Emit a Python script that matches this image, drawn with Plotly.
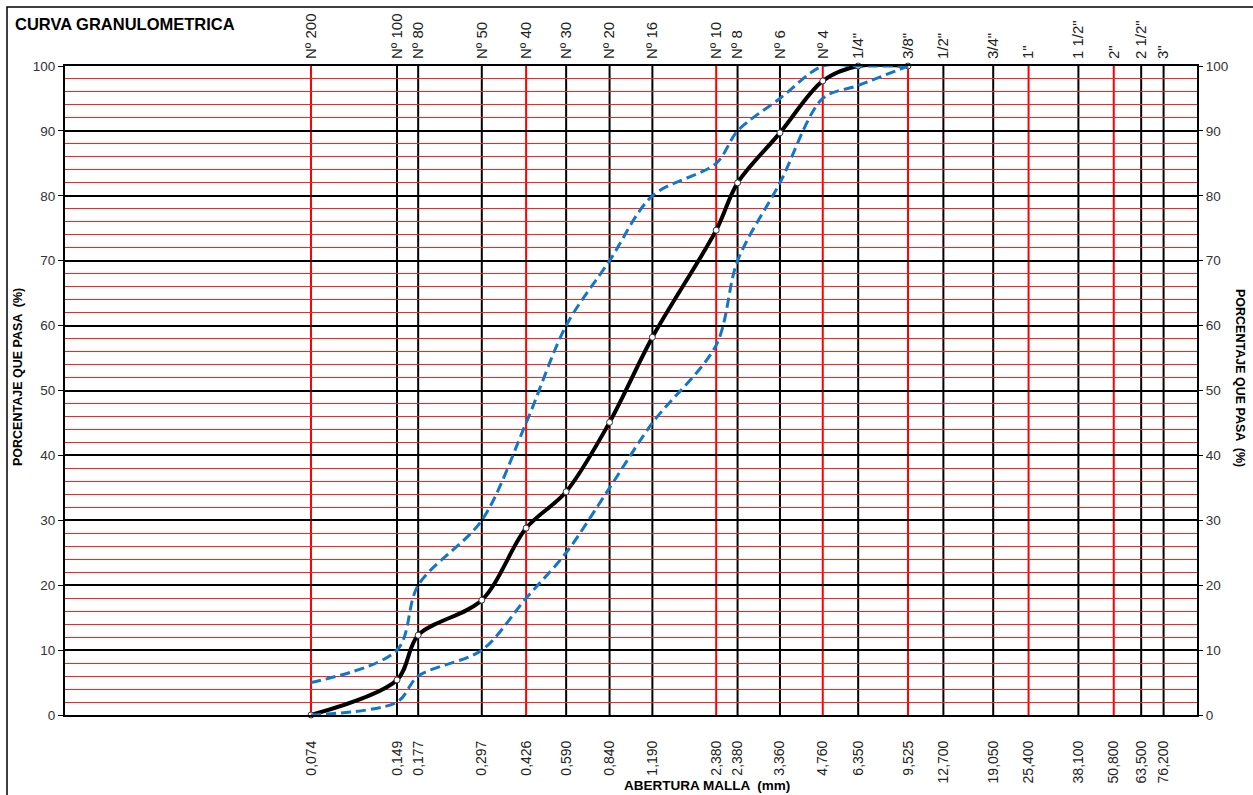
import plotly.graph_objects as go

# ---------------- data ----------------
sieve_mm = [0.074, 0.149, 0.177, 0.297, 0.426, 0.590, 0.840, 1.190, 2.000, 2.380,
            3.360, 4.760, 6.350, 9.525, 12.700, 19.050, 25.400, 38.100, 50.800,
            63.500, 76.200]
bottom_labels = ["0,074", "0,149", "0,177", "0,297", "0,426", "0,590", "0,840",
                 "1,190", "2,380", "2,380", "3,360", "4,760", "6,350", "9,525",
                 "12,700", "19,050", "25,400", "38,100", "50,800", "63,500", "76,200"]
top_labels = ["Nº 200", "Nº 100", "Nº 80", "Nº 50", "Nº 40", "Nº 30", "Nº 20",
              "Nº 16", "Nº 10", "Nº 8", "Nº 6", "Nº 4", '1/4"', '3/8"', '1/2"',
              '3/4"', '1"', '1 1/2"', '2"', '2 1/2"', '3"']
red_sieves = ["Nº 200", "Nº 40", "Nº 10", "Nº 4", '3/8"', '1"', '2"']

curve_mm = [0.074, 0.149, 0.177, 0.297, 0.426, 0.590, 0.840, 1.190, 2.000, 2.380,
            3.360, 4.760, 6.350, 9.525]
pasa = [0.0, 5.4, 12.3, 17.7, 28.8, 34.4, 45.1, 58.2, 74.7, 82.0, 89.7, 97.7, 100.0, 100.0]
limite_sup = [5, 10, 20, 30, 45, 60, 70, 80, 85, 90, 95, 100, 100, 100]
limite_inf = [0, 2, 6, 10, 18, 25, 35, 45, 57, 70, 82, 95, 97, 100]

# ---------------- layout helpers ----------------
W, H = 1253, 795
L, R, T, B = 65, 1197, 66, 715


def px(x):
    return (x - L) / (R - L)


def py(y):
    return (B - y) / (B - T)


FONT = "Liberation Sans, Arial, sans-serif"
BLUE = "#1177c9"

fig = go.Figure()

fig.add_trace(go.Scatter(
    x=curve_mm, y=pasa, mode="lines+markers",
    line=dict(color="black", width=4, shape="spline", smoothing=0.9),
    marker=dict(size=6, color="white", line=dict(color="#333333", width=1)),
    showlegend=False, hoverinfo="x+y", cliponaxis=False))
fig.add_trace(go.Scatter(
    x=curve_mm, y=limite_sup, mode="lines",
    line=dict(color=BLUE, width=3, dash="10px,5px", shape="spline", smoothing=0.9),
    showlegend=False))
fig.add_trace(go.Scatter(
    x=curve_mm, y=limite_inf, mode="lines",
    line=dict(color=BLUE, width=3, dash="10px,5px", shape="spline", smoothing=0.9),
    showlegend=False))
# invisible trace to activate top axis
fig.add_trace(go.Scatter(x=[sieve_mm[0]], y=[0], xaxis="x2", mode="markers",
                         marker=dict(opacity=0), showlegend=False, hoverinfo="skip"))
# invisible trace for right axis
fig.add_trace(go.Scatter(x=[sieve_mm[0]], y=[0], yaxis="y2", mode="markers",
                         marker=dict(opacity=0), showlegend=False, hoverinfo="skip"))

shapes = []
for xv, lab in zip(sieve_mm, top_labels):
    col = "#ff0000" if lab in red_sieves else "black"
    shapes.append(dict(type="line", xref="x", yref="paper", x0=xv, x1=xv, y0=0, y1=1,
                       line=dict(color=col, width=2), layer="between"))
# outer frame
shapes.append(dict(type="rect", xref="paper", yref="paper",
                   x0=px(7), x1=px(1275), y0=py(820), y1=py(7),
                   line=dict(color="black", width=1.5), layer="below"))

bfont = dict(family=FONT, size=14, color="#222222")
tfont = dict(family=FONT, size=15, color="#222222")
yfont = dict(family=FONT, size=13.5, color="#333333")

fig.update_layout(
    width=W, height=H,
    margin=dict(l=L, r=W - R, t=T, b=H - B),
    paper_bgcolor="white", plot_bgcolor="white",
    shapes=shapes,
    xaxis=dict(type="log", range=[-2, 2], tickmode="array", tickvals=sieve_mm,
               ticktext=bottom_labels, tickangle=-90, tickfont=bfont,
               showgrid=False, zeroline=False, ticks="", ticklabelstandoff=18,
               showline=True, linecolor="black", linewidth=2, mirror=False),
    xaxis2=dict(type="log", range=[-2, 2], overlaying="x", side="top",
                tickmode="array", tickvals=sieve_mm, ticktext=top_labels,
                tickangle=-90, tickfont=tfont, showgrid=False, zeroline=False,
                ticks="", ticklabelstandoff=2, showline=True, linecolor="black",
                linewidth=2),
    yaxis=dict(range=[0, 100], dtick=10, tick0=0, tickfont=yfont,
               showgrid=True, gridcolor="black", gridwidth=2,
               minor=dict(dtick=2, showgrid=True, gridcolor="#ff2020", gridwidth=1,
                          ticks=""),
               ticks="outside", ticklen=5, tickcolor="black", tickwidth=1,
               showline=True, linecolor="black", linewidth=2, zeroline=False),
    yaxis2=dict(range=[0, 100], dtick=10, tick0=0, overlaying="y", side="right",
                tickfont=yfont, showgrid=False, ticks="outside", ticklen=4,
                tickcolor="black", tickwidth=1, showline=True, linecolor="black",
                linewidth=2, zeroline=False),
    annotations=[
        dict(text="<b>CURVA GRANULOMETRICA</b>", xref="paper", yref="paper",
             x=px(13), y=py(24), xanchor="left", yanchor="middle", showarrow=False,
             font=dict(family=FONT, size=16.5, color="black")),
        dict(text="<b>PORCENTAJE QUE PASA  (%)</b>", xref="paper", yref="paper",
             x=px(18), y=py(377), xanchor="center", yanchor="middle", textangle=-90,
             showarrow=False, font=dict(family=FONT, size=12.5, color="black")),
        dict(text="<b>PORCENTAJE QUE PASA  (%)</b>", xref="paper", yref="paper",
             x=px(1240), y=py(378), xanchor="center", yanchor="middle", textangle=90,
             showarrow=False, font=dict(family=FONT, size=12.5, color="black")),
        dict(text="<b>ABERTURA MALLA  (mm)</b>", xref="paper", yref="paper",
             x=px(707), y=py(786), xanchor="center", yanchor="middle",
             showarrow=False, font=dict(family=FONT, size=13.5, color="black")),
    ],
)

fig.write_html("out.html", config={"displayModeBar": False},
               post_script="document.body.style.margin='0';document.body.style.overflow='hidden';")
